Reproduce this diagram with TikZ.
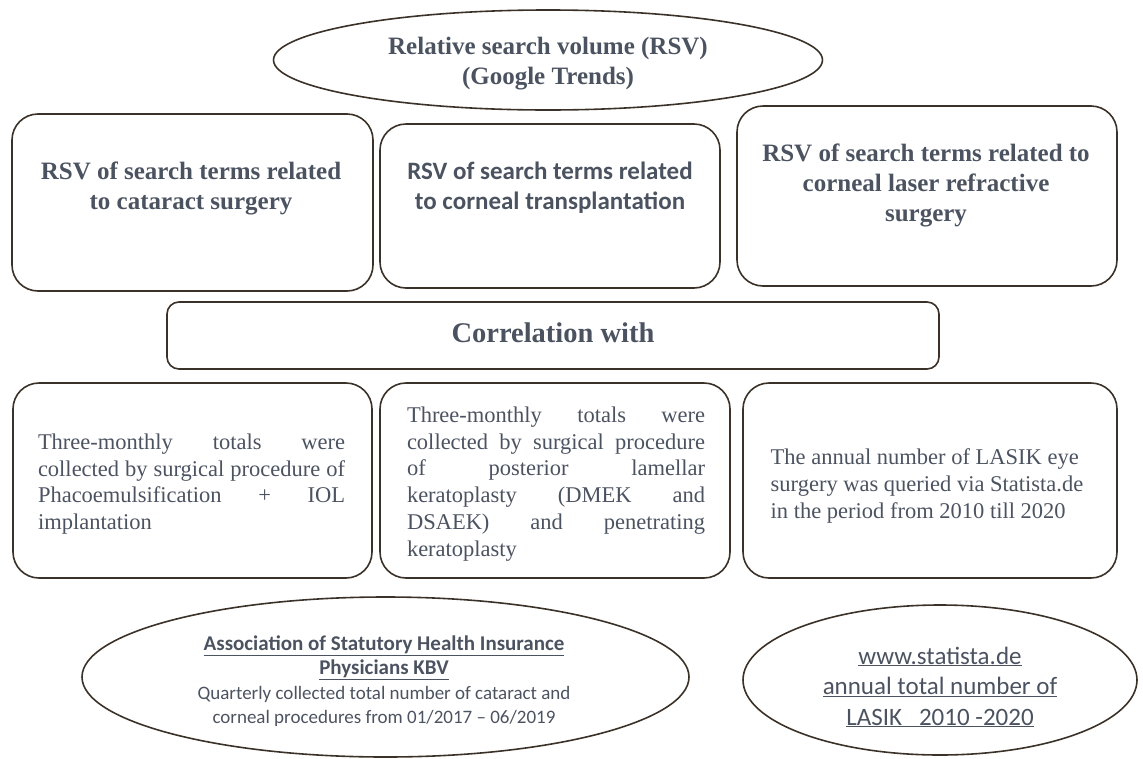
\documentclass[tikz,border=0pt]{standalone}
\usepackage{fontspec}
\setmainfont{Liberation Serif}
\newfontfamily\calfont{Carlito}
\usetikzlibrary{shapes.geometric}
\definecolor{txt}{RGB}{76,83,96}
\definecolor{edge}{RGB}{58,50,40}
\newcommand\jline[2]{\leavevmode\hbox to #1{\spaceskip=0.25em plus 5em minus 0.1em\relax #2}\\}
\tikzset{
  rbox/.style={draw=edge, line width=1.6pt, rounded corners=26pt, inner sep=0pt},
  oval/.style={draw=edge, line width=1.6pt, ellipse, inner sep=0pt},
  btitle/.style={text=txt, align=center, inner sep=0pt, font=\fontsize{25}{30}\selectfont\bfseries},
  sbtitle/.style={text=txt, align=center, inner sep=0pt, font=\calfont\fontsize{25}{30}\selectfont\bfseries},
  body/.style={text=txt, align=left, inner sep=0pt, font=\fontsize{22.5}{26.8}\selectfont},
}
\begin{document}
\begin{tikzpicture}[x=1pt,y=-1pt]
\useasboundingbox (0,0) rectangle (1143,758);
% top ellipse
\node[oval, minimum width=549pt, minimum height=100pt] (rsv) at (548,60) {};
\node[btitle] (rsvt) at (548,64) {Relative search volume (RSV)\\(Google Trends)};
% top row boxes
\node[rbox, minimum width=361pt, minimum height=177pt] (b1) at (192.5,202.5) {};
\node[btitle] (b1t) at (191,188) {RSV of search terms related\\to cataract surgery};
\node[rbox, minimum width=340pt, minimum height=164pt] (b2) at (550,206) {};
\node[sbtitle] (b2t) at (550,188) {RSV of search terms related\\to corneal transplantation};
\node[rbox, minimum width=380pt, minimum height=180pt] (b3) at (927,196) {};
\node[btitle] (b3t) at (926,185) {RSV of search terms related to\\corneal laser refractive\\surgery};
% correlation
\node[rbox, rounded corners=12pt, minimum width=772pt, minimum height=67pt] (corr) at (553,335.5) {};
\node[text=txt, inner sep=0pt, font=\fontsize{28.5}{32}\selectfont\bfseries] (corrt) at (553,333) {Correlation with};
% bottom row boxes
\node[rbox, minimum width=359pt, minimum height=195pt] (b4) at (192.5,480.5) {};
\node[body, text width=307pt] (b4t) at (191.5,484) {\jline{307pt}{Three-monthly totals were}\jline{307pt}{collected by surgical procedure of}\jline{307pt}{Phacoemulsification + IOL}implantation};
\node[rbox, minimum width=350pt, minimum height=195pt] (b5) at (555,480.5) {};
\node[body, text width=298pt] (b5t) at (556,484) {\jline{298pt}{Three-monthly totals were}\jline{298pt}{collected by surgical procedure}\jline{298pt}{of posterior lamellar}\jline{298pt}{keratoplasty (DMEK and}\jline{298pt}{DSAEK) and penetrating}keratoplasty};
\node[rbox, minimum width=374pt, minimum height=195pt] (b6) at (930,480.5) {};
\node[body] (b6t) at (927,486) {The annual number of LASIK eye\\surgery was queried via Statista.de\\in the period from 2010 till 2020};
% bottom ellipses
\node[oval, minimum width=607pt, minimum height=160pt] (kbv) at (385.5,677) {};
\node[text=txt, align=center, inner sep=0pt, font=\calfont\fontsize{19}{24.3}\selectfont] (kbvt) at (384,681) {{\fontsize{21}{24.3}\selectfont\bfseries\underline{Association of Statutory Health Insurance}}\\{\fontsize{21}{24.3}\selectfont\bfseries\underline{Physicians KBV}}\\Quarterly collected total number of cataract and\\corneal procedures from 01/2017 – 06/2019};
\node[oval, minimum width=394pt, minimum height=150pt] (sta) at (940,680) {};
\node[text=txt, align=center, inner sep=0pt, font=\calfont\fontsize{25}{30.5}\selectfont] (stat) at (940,687) {\underline{www.statista.de}\\\underline{annual total number of}\\\underline{LASIK\ \ \ 2010 -2020}};
\end{tikzpicture}
\end{document}
